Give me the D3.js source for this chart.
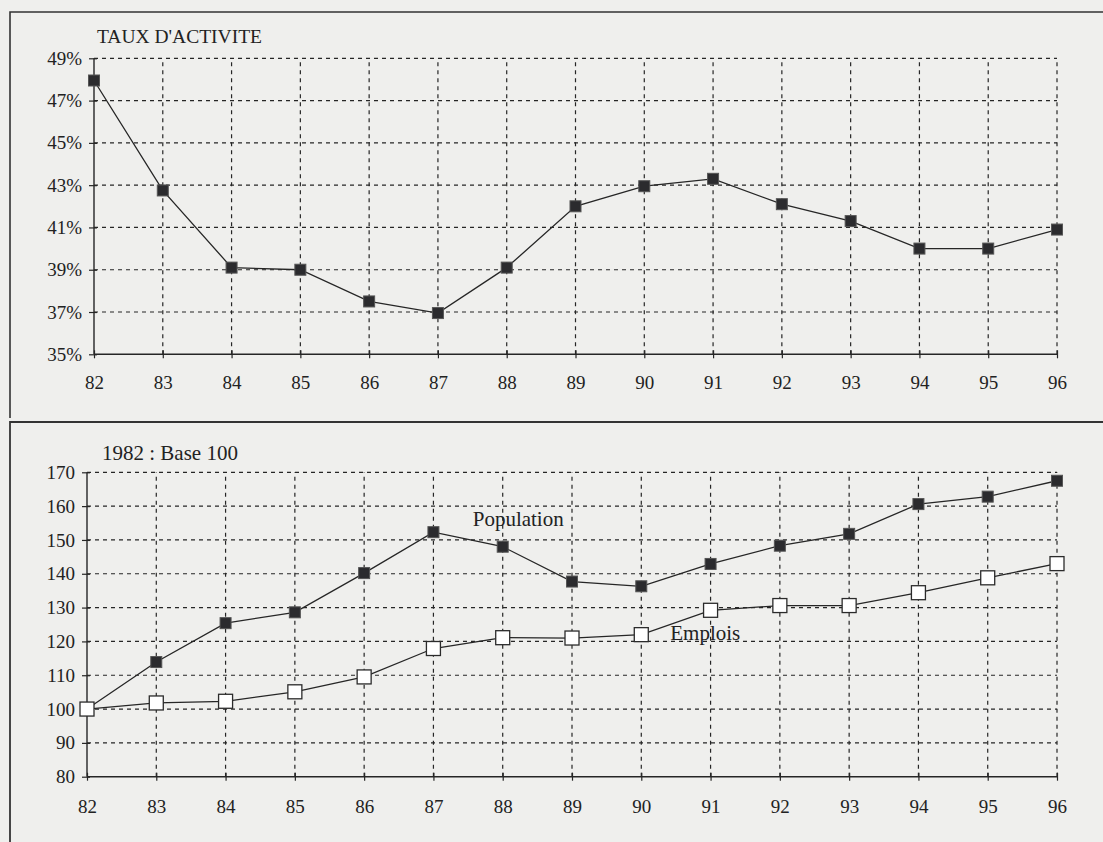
<!DOCTYPE html>
<html><head><meta charset="utf-8">
<script src="https://cdn.jsdelivr.net/npm/d3@7/dist/d3.min.js"></script>
<style>
html,body{margin:0;padding:0;background:#efefed;}
svg{display:block;}
text{font-family:"Liberation Serif","Times New Roman",serif;fill:#222;}
</style></head><body>
<svg id="c" width="1103" height="842"></svg>
<script>
const years = ["82","83","84","85","86","87","88","89","90","91","92","93","94","95","96"];
const tauxActivite = [47.95,42.75,39.1,39.0,37.5,36.95,39.1,42.0,42.95,43.3,42.1,41.3,40.0,40.0,40.9];
const tauxTicks = [35,37,39,41,43,45,47,49];
const population = [100,113.9,125.4,128.6,140.2,152.3,148,137.7,136.3,142.9,148.3,151.8,160.6,162.8,167.5];
const emplois = [100,101.8,102.3,105.1,109.5,117.9,121.1,121,122,129.2,130.6,130.6,134.4,138.8,143];
const indexTicks = [80,90,100,110,120,130,140,150,160,170];

const FONT = "Liberation Serif";
const svg = d3.select("#c");
const ink = "#262626";

svg.append("path").attr("d","M10,418 L10,12 L1103,12").attr("fill","none").attr("stroke","#333").attr("stroke-width",1.6);
svg.append("path").attr("d","M10,842 L10,422 L1103,422").attr("fill","none").attr("stroke","#333").attr("stroke-width",1.8);

function panel(cfg){
  const x = d3.scalePoint().domain(years).range([cfg.x0, cfg.x1]);
  const y = d3.scaleLinear().domain(cfg.domain).range([cfg.y0, cfg.y1]);
  const g = svg.append("g");
  g.selectAll("line.hg").data(cfg.ticks.slice(1)).join("line")
    .attr("x1",cfg.x0).attr("x2",cfg.x1).attr("y1",d=>y(d)).attr("y2",d=>y(d))
    .attr("stroke",ink).attr("stroke-width",1.2).attr("stroke-dasharray","4,4");
  g.selectAll("line.vg").data(years.slice(1)).join("line")
    .attr("x1",d=>x(d)).attr("x2",d=>x(d)).attr("y1",cfg.y0).attr("y2",cfg.y1)
    .attr("stroke",ink).attr("stroke-width",1.2).attr("stroke-dasharray","4,4");
  const ya = d3.axisLeft(y).tickValues(cfg.ticks).tickSize(5).tickFormat(cfg.fmt).tickPadding(7);
  const yg = g.append("g").attr("transform",`translate(${cfg.x0},0)`).call(ya);
  yg.attr("font-family",FONT).attr("font-size",19);
  yg.select(".domain").attr("stroke",ink).attr("stroke-width",1.4).attr("d",`M0,${cfg.y0}V${cfg.y1}`);
  yg.selectAll(".tick line").attr("stroke",ink).attr("x1",3).attr("stroke-width",1.2);
  yg.selectAll(".tick text").attr("font-family",FONT).attr("font-size",19).attr("fill","#222");
  const xa = d3.axisBottom(x).tickSize(4).tickPadding(cfg.xpad);
  const xg = g.append("g").attr("transform",`translate(0,${cfg.y0})`).call(xa);
  xg.attr("font-family",FONT).attr("font-size",19);
  xg.select(".domain").attr("stroke",ink).attr("stroke-width",1.4).attr("d",`M${cfg.x0},0H${cfg.x1}`);
  xg.selectAll(".tick line").attr("stroke",ink).attr("y1",-4).attr("stroke-width",1.2);
  xg.selectAll(".tick text").attr("font-family",FONT).attr("font-size",19).attr("fill","#222");
  return {x,y,g};
}

function series(p, data, filled){
  const line = d3.line().x((d,i)=>p.x(years[i])).y(d=>p.y(d));
  p.g.append("path").datum(data).attr("d",line).attr("fill","none").attr("stroke",ink).attr("stroke-width",1.3);
  const s = filled ? 11 : 14;
  p.g.selectAll(null).data(data).join("rect")
    .attr("x",(d,i)=>p.x(years[i])-s/2).attr("y",d=>p.y(d)-s/2)
    .attr("width",s).attr("height",s)
    .attr("fill",filled?"#2b2b2e":"#ffffff").attr("stroke",filled?"#555":"#2b2b2b").attr("stroke-width",filled?1:1.3);
}

const p1 = panel({x0:94,x1:1057,y0:354.3,y1:58.3,domain:[35,49],ticks:tauxTicks,fmt:d=>d+"%",xpad:17});
series(p1, tauxActivite, true);
svg.append("text").attr("x",97).attr("y",43).attr("font-family",FONT).attr("font-size",19.5).text("TAUX D'ACTIVITE");

const p2 = panel({x0:87,x1:1057,y0:776.7,y1:472.3,domain:[80,170],ticks:indexTicks,fmt:d=>d,xpad:19});
series(p2, population, true);
series(p2, emplois, false);
svg.append("text").attr("x",102).attr("y",460).attr("font-family",FONT).attr("font-size",21).text("1982 : Base 100");
svg.append("text").attr("x",p2.x("88")-30).attr("y",p2.y(154)).attr("font-family",FONT).attr("font-size",21).text("Population");
svg.append("text").attr("x",p2.x("90")+29).attr("y",p2.y(120.3)).attr("font-family",FONT).attr("font-size",21).text("Emplois");
</script>
</body></html>
